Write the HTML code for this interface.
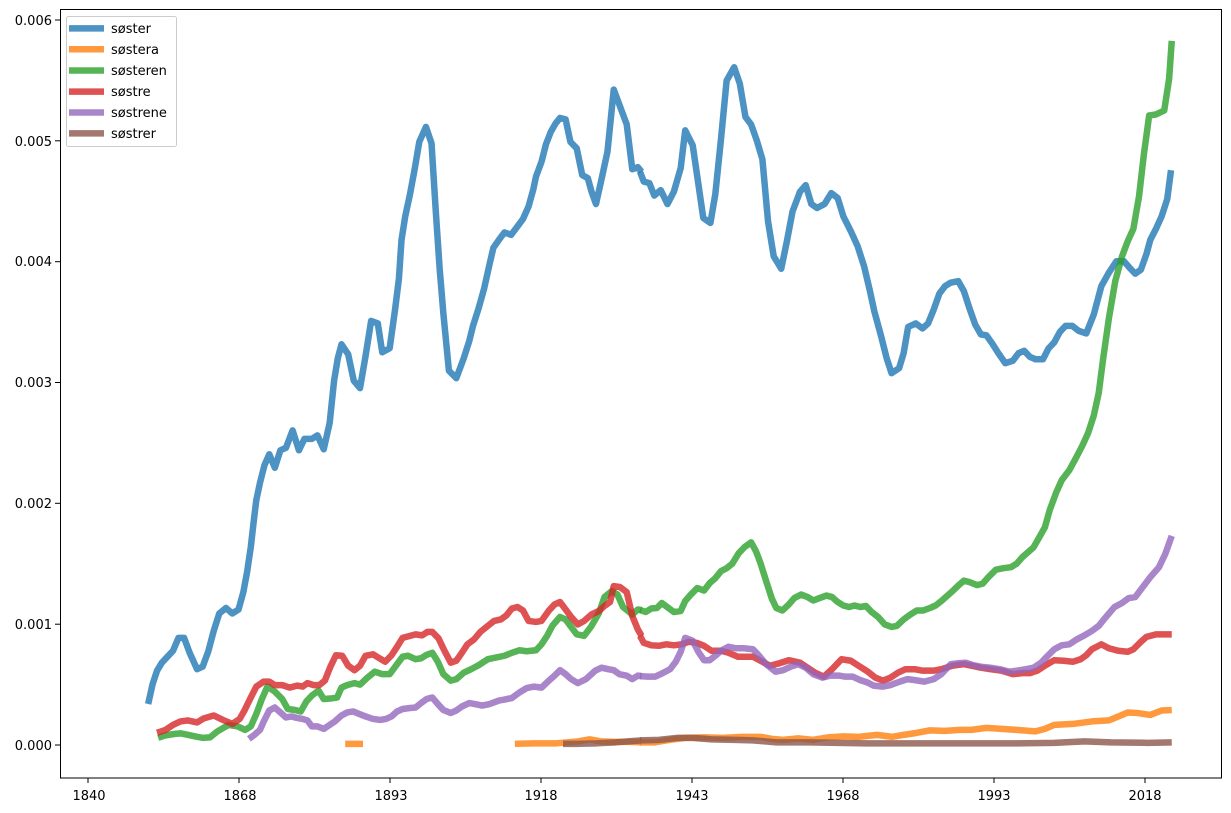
<!DOCTYPE html>
<html><head><meta charset="utf-8"><style>
html,body{margin:0;padding:0;background:#fff}
svg{display:block}
text{font-family:"DejaVu Sans","Liberation Sans",sans-serif;font-size:13px;fill:#000}
polyline{fill:none;stroke-width:6.5;stroke-opacity:0.8;stroke-linejoin:round;vector-effect:non-scaling-stroke}
</style></head><body>
<svg width="1231" height="813" viewBox="0 0 1231 813" xmlns="http://www.w3.org/2000/svg">
<rect width="1231" height="813" fill="#fff"/>
<g transform="translate(60,10) scale(0.3704,0.4975)">
<polyline stroke="#1f77b4" points="238,1395 250,1355 262,1328 275,1312 290,1300 305,1288 320,1262 335,1262 350,1292 370,1325 385,1320 400,1290 415,1248 430,1213 448,1202 465,1213 482,1205 495,1170 505,1130 515,1080 525,1015 530,985 540,950 552,915 565,893 580,920 595,885 610,880 628,845 645,885 660,862 680,862 695,855 712,883 728,830 740,745 750,700 760,672 778,692 793,745 810,760 825,695 840,625 858,630 870,688 890,680 905,600 915,540 922,462 932,415 945,370 958,318 970,265 988,235 1003,268 1015,410 1025,520 1035,610 1050,725 1070,740 1090,700 1105,665 1115,635 1130,600 1145,560 1160,510 1170,478 1185,462 1200,447 1218,452 1235,435 1250,420 1265,395 1278,360 1285,335 1300,305 1312,270 1325,245 1338,228 1350,217 1365,220 1378,265 1395,278 1410,332 1425,338 1435,365 1447,390 1462,340 1478,285 1495,160 1515,200 1530,230 1545,320 1560,316 1570,325"/>
<polyline stroke="#ff7f0e" points="770,1475 818,1475"/>
<polyline stroke="#ff7f0e" points="1228,1475 1280,1474 1340,1474 1400,1470 1430,1466 1460,1470 1500,1471 1540,1471 1570,1472"/>
<polyline stroke="#2ca02c" points="265,1463 285,1458 310,1455 325,1454 345,1457 370,1461 385,1463 405,1462 425,1450 455,1437 480,1440 500,1447 515,1440 530,1415 545,1385 560,1360 580,1370 600,1385 615,1405 635,1407 650,1410 665,1390 680,1378 698,1368 712,1385 730,1384 748,1382 760,1362 775,1357 795,1353 810,1356 830,1342 850,1330 870,1335 890,1335 910,1315 925,1300 940,1298 960,1305 975,1303 990,1296 1005,1292 1020,1310 1035,1335 1055,1348 1070,1345 1090,1332 1110,1325 1130,1317 1155,1305 1175,1302 1200,1298 1220,1292 1240,1287 1260,1289 1285,1287 1300,1275 1315,1258 1330,1237 1350,1220 1365,1225 1378,1238 1395,1255 1415,1258 1435,1238 1455,1212 1470,1180 1490,1168 1505,1175 1520,1200 1545,1215 1560,1205 1570,1206"/>
<polyline stroke="#d62728" points="262,1453 285,1447 305,1437 325,1430 345,1428 370,1432 388,1424 415,1418 440,1427 465,1435 485,1425 498,1408 515,1382 530,1360 550,1350 565,1350 580,1357 600,1357 620,1362 640,1358 655,1360 668,1353 685,1357 700,1357 715,1348 730,1320 745,1297 762,1298 778,1318 795,1327 810,1318 825,1298 845,1295 860,1302 878,1310 895,1297 910,1280 925,1262 945,1258 960,1255 978,1257 992,1250 1005,1250 1022,1263 1038,1288 1055,1312 1070,1308 1085,1292 1100,1275 1118,1265 1135,1250 1155,1238 1172,1228 1190,1225 1205,1217 1220,1203 1235,1200 1250,1207 1265,1228 1285,1230 1300,1228 1320,1207 1335,1195 1350,1190 1365,1205 1380,1220 1398,1235 1415,1228 1435,1215 1455,1208 1470,1198 1485,1190 1495,1158 1512,1160 1530,1170 1545,1218 1560,1245 1570,1258"/>
<polyline stroke="#9467bd" points="510,1465 525,1457 540,1447 550,1430 565,1408 580,1402 595,1412 610,1422 625,1420 640,1423 655,1425 668,1428 680,1440 695,1440 712,1445 728,1437 742,1430 760,1418 775,1412 792,1410 808,1415 825,1420 845,1425 865,1427 880,1425 895,1420 910,1410 925,1405 945,1403 960,1402 975,1393 990,1385 1005,1382 1020,1395 1035,1407 1055,1413 1070,1408 1085,1400 1105,1393 1120,1395 1140,1398 1160,1395 1185,1388 1200,1386 1220,1383 1240,1372 1260,1363 1280,1360 1300,1362 1320,1348 1335,1338 1350,1327 1365,1335 1380,1345 1398,1353 1420,1345 1445,1328 1462,1322 1480,1325 1495,1327 1510,1335 1530,1338 1545,1345 1560,1338 1570,1339"/>
<polyline stroke="#8c564b" points="1358,1475 1400,1475 1450,1474 1500,1472 1570,1468"/>
</g>
<g transform="translate(640,10) scale(0.3766,0.4975)">
<polyline stroke="#1f77b4" points="0,325 10,345 25,348 38,373 55,362 73,390 90,365 108,318 120,242 140,272 155,350 168,418 187,428 200,370 215,260 230,142 250,115 265,148 280,215 295,230 310,262 325,300 340,425 355,495 375,520 390,465 405,405 425,365 440,352 455,390 470,398 490,390 508,368 525,378 540,415 560,445 578,475 595,515 610,563 622,605 640,655 655,700 668,730 688,720 700,690 712,637 732,630 750,640 765,630 780,602 795,570 810,555 825,548 845,545 860,565 875,600 890,632 905,652 920,654 935,670 950,688 970,710 990,705 1005,690 1020,685 1035,697 1050,702 1070,702 1085,680 1100,668 1115,647 1130,635 1148,635 1165,645 1185,650 1205,612 1225,555 1245,528 1265,505 1285,505 1300,518 1315,530 1330,522 1345,490 1355,462 1370,440 1385,415 1400,380 1410,322"/>
<polyline stroke="#ff7f0e" points="0,1472 40,1472 80,1467 120,1463 170,1462 220,1463 270,1461 320,1461 350,1465 380,1467 420,1464 460,1467 500,1462 540,1460 580,1461 630,1457 670,1461 700,1457 735,1453 770,1448 810,1449 850,1447 880,1447 920,1443 960,1445 1000,1447 1050,1450 1075,1445 1100,1437 1150,1435 1180,1432 1200,1430 1245,1428 1270,1420 1295,1412 1320,1413 1355,1417 1385,1408 1412,1407"/>
<polyline stroke="#2ca02c" points="0,1206 15,1210 30,1203 45,1202 58,1192 72,1200 90,1210 108,1208 120,1188 135,1175 152,1162 170,1167 185,1152 200,1142 215,1128 230,1122 245,1113 262,1092 277,1080 295,1070 308,1088 320,1112 335,1148 350,1183 362,1202 378,1207 395,1195 410,1182 428,1175 445,1180 460,1187 477,1182 495,1177 510,1180 525,1190 540,1197 555,1200 570,1197 585,1200 600,1198 615,1210 632,1220 650,1235 668,1240 682,1238 700,1225 718,1215 735,1207 752,1207 770,1202 785,1197 800,1188 815,1178 830,1168 845,1157 860,1147 875,1150 895,1156 910,1153 925,1140 945,1125 965,1122 985,1120 1000,1113 1015,1100 1030,1090 1045,1080 1060,1060 1075,1040 1088,1005 1105,970 1120,945 1140,925 1160,897 1175,875 1190,850 1205,815 1218,770 1230,700 1245,620 1262,545 1280,495 1295,465 1310,440 1325,375 1338,290 1352,212 1370,210 1392,202 1405,138 1412,62"/>
<polyline stroke="#d62728" points="0,1258 10,1272 30,1277 50,1278 70,1275 90,1277 110,1275 130,1270 150,1272 170,1278 190,1288 215,1288 235,1292 260,1300 285,1300 300,1300 320,1308 345,1318 370,1313 395,1307 425,1312 445,1322 465,1332 488,1340 510,1325 535,1305 560,1308 580,1318 605,1330 625,1342 645,1348 665,1342 685,1332 705,1325 730,1325 750,1328 780,1328 800,1325 830,1318 860,1315 880,1318 905,1322 930,1325 960,1328 990,1335 1015,1333 1035,1333 1055,1328 1075,1318 1100,1307 1125,1308 1150,1310 1170,1305 1185,1297 1200,1285 1225,1275 1245,1283 1270,1288 1295,1290 1310,1285 1330,1270 1345,1260 1370,1255 1390,1255 1412,1255"/>
<polyline stroke="#9467bd" points="0,1339 20,1340 40,1340 60,1333 80,1325 95,1310 108,1290 120,1262 140,1268 155,1290 170,1307 185,1307 200,1298 215,1288 235,1280 255,1283 275,1283 300,1285 315,1297 335,1315 360,1330 380,1327 400,1320 420,1315 440,1322 460,1335 485,1342 505,1338 530,1338 545,1340 565,1340 585,1347 605,1352 620,1358 645,1360 665,1357 690,1350 710,1345 730,1347 755,1350 780,1345 800,1335 825,1315 845,1313 865,1312 885,1317 905,1320 930,1322 955,1325 980,1330 1000,1328 1025,1325 1045,1322 1065,1312 1080,1300 1100,1285 1120,1277 1140,1275 1160,1265 1180,1257 1200,1248 1218,1238 1235,1222 1260,1200 1280,1192 1298,1182 1315,1180 1335,1160 1355,1140 1378,1120 1395,1093 1412,1057"/>
<polyline stroke="#8c564b" points="0,1468 50,1467 100,1463 140,1463 190,1466 250,1467 300,1468 360,1472 450,1472 600,1474 800,1474 1000,1474 1100,1473 1180,1470 1250,1472 1350,1473 1412,1472"/>
</g>
<rect x="60.5" y="9.5" width="1161" height="768.5" fill="none" stroke="#000" stroke-width="1"/>
<g stroke="#000" stroke-width="1">
<line x1="88" y1="778" x2="88" y2="783"/><line x1="239" y1="778" x2="239" y2="783"/><line x1="390" y1="778" x2="390" y2="783"/><line x1="541" y1="778" x2="541" y2="783"/><line x1="692" y1="778" x2="692" y2="783"/><line x1="843" y1="778" x2="843" y2="783"/><line x1="994" y1="778" x2="994" y2="783"/><line x1="1145" y1="778" x2="1145" y2="783"/>
<line x1="55" y1="745" x2="60" y2="745"/><line x1="55" y1="624.2" x2="60" y2="624.2"/><line x1="55" y1="503.3" x2="60" y2="503.3"/><line x1="55" y1="382.5" x2="60" y2="382.5"/><line x1="55" y1="261.7" x2="60" y2="261.7"/><line x1="55" y1="140.8" x2="60" y2="140.8"/><line x1="55" y1="20" x2="60" y2="20"/>
</g>
<g text-anchor="middle">
<text x="89" y="800">1840</text><text x="240" y="800">1868</text><text x="391" y="800">1893</text><text x="541" y="800">1918</text><text x="692" y="800">1943</text><text x="843" y="800">1968</text><text x="994" y="800">1993</text><text x="1145" y="800">2018</text>
</g>
<g text-anchor="end">
<text x="52" y="750">0.000</text><text x="52" y="629">0.001</text><text x="52" y="508">0.002</text><text x="52" y="387">0.003</text><text x="52" y="266">0.004</text><text x="52" y="146">0.005</text><text x="52" y="25">0.006</text>
</g>
<rect x="66.5" y="16.5" width="110" height="130" rx="2" fill="#fff" fill-opacity="0.8" stroke="#ccc"/>
<g stroke-width="6.5" stroke-opacity="0.8">
<line x1="69" y1="28.4" x2="104" y2="28.4" stroke="#1f77b4"/>
<line x1="69" y1="49.3" x2="104" y2="49.3" stroke="#ff7f0e"/>
<line x1="69" y1="70.5" x2="104" y2="70.5" stroke="#2ca02c"/>
<line x1="69" y1="91.6" x2="104" y2="91.6" stroke="#d62728"/>
<line x1="69" y1="112.5" x2="104" y2="112.5" stroke="#9467bd"/>
<line x1="69" y1="133.4" x2="104" y2="133.4" stroke="#8c564b"/>
</g>
<text x="111" y="33">søster</text><text x="111" y="54">søstera</text><text x="111" y="75">søsteren</text><text x="111" y="96">søstre</text><text x="111" y="117">søstrene</text><text x="111" y="138">søstrer</text>
</svg>
</body></html>
